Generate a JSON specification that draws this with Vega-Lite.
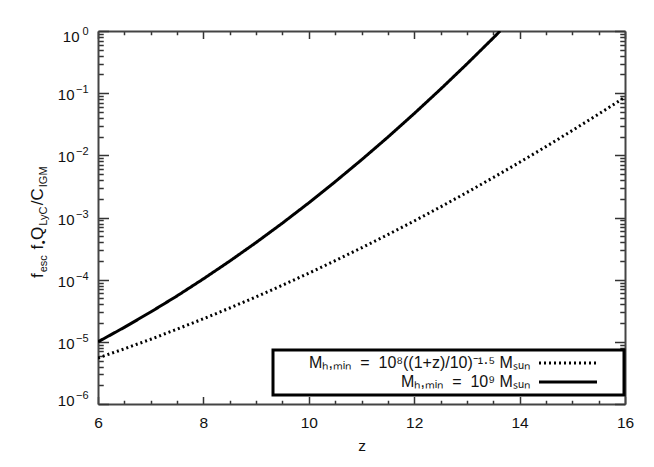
{
  "$schema": "https://vega.github.io/schema/vega-lite/v6.json",
  "width": 527,
  "height": 373,
  "autosize": {"type": "none"},
  "padding": {"left": 98, "top": 31, "right": 29, "bottom": 63},
  "background": "white",
  "config": {
    "view": {"stroke": null},
    "font": "Liberation Sans",
    "axis": {
      "grid": false,
      "labelFlush": false,
      "labelOverlap": false,
      "domainColor": "#444444",
      "domainWidth": 2,
      "tickColor": "#333333",
      "tickWidth": 1.5,
      "labelColor": "#111111",
      "titleColor": "#111111",
      "labelFont": "Liberation Sans",
      "titleFont": "Liberation Sans",
      "titleFontWeight": "normal"
    },
    "legend": {"strokeWidth": 3}
  },
  "data": {
    "values": [
      {"z": 6, "v": 1.0e-5, "series": "Mₕ,ₘᵢₙ\u00a0\u00a0=\u00a0\u00a010⁹ Mₛᵤₙ"},
      {"z": 6.5, "v": 1.71e-5, "series": "Mₕ,ₘᵢₙ\u00a0\u00a0=\u00a0\u00a010⁹ Mₛᵤₙ"},
      {"z": 7, "v": 3.02e-5, "series": "Mₕ,ₘᵢₙ\u00a0\u00a0=\u00a0\u00a010⁹ Mₛᵤₙ"},
      {"z": 7.5, "v": 5.48e-5, "series": "Mₕ,ₘᵢₙ\u00a0\u00a0=\u00a0\u00a010⁹ Mₛᵤₙ"},
      {"z": 8, "v": 1.03e-4, "series": "Mₕ,ₘᵢₙ\u00a0\u00a0=\u00a0\u00a010⁹ Mₛᵤₙ"},
      {"z": 8.5, "v": 1.99e-4, "series": "Mₕ,ₘᵢₙ\u00a0\u00a0=\u00a0\u00a010⁹ Mₛᵤₙ"},
      {"z": 9, "v": 3.96e-4, "series": "Mₕ,ₘᵢₙ\u00a0\u00a0=\u00a0\u00a010⁹ Mₛᵤₙ"},
      {"z": 9.5, "v": 8.13e-4, "series": "Mₕ,ₘᵢₙ\u00a0\u00a0=\u00a0\u00a010⁹ Mₛᵤₙ"},
      {"z": 10, "v": 1.72e-3, "series": "Mₕ,ₘᵢₙ\u00a0\u00a0=\u00a0\u00a010⁹ Mₛᵤₙ"},
      {"z": 10.5, "v": 3.76e-3, "series": "Mₕ,ₘᵢₙ\u00a0\u00a0=\u00a0\u00a010⁹ Mₛᵤₙ"},
      {"z": 11, "v": 8.46e-3, "series": "Mₕ,ₘᵢₙ\u00a0\u00a0=\u00a0\u00a010⁹ Mₛᵤₙ"},
      {"z": 11.5, "v": 1.96e-2, "series": "Mₕ,ₘᵢₙ\u00a0\u00a0=\u00a0\u00a010⁹ Mₛᵤₙ"},
      {"z": 12, "v": 4.70e-2, "series": "Mₕ,ₘᵢₙ\u00a0\u00a0=\u00a0\u00a010⁹ Mₛᵤₙ"},
      {"z": 12.5, "v": 0.116, "series": "Mₕ,ₘᵢₙ\u00a0\u00a0=\u00a0\u00a010⁹ Mₛᵤₙ"},
      {"z": 13, "v": 0.295, "series": "Mₕ,ₘᵢₙ\u00a0\u00a0=\u00a0\u00a010⁹ Mₛᵤₙ"},
      {"z": 13.5, "v": 0.773, "series": "Mₕ,ₘᵢₙ\u00a0\u00a0=\u00a0\u00a010⁹ Mₛᵤₙ"},
      {"z": 13.63, "v": 1.0, "series": "Mₕ,ₘᵢₙ\u00a0\u00a0=\u00a0\u00a010⁹ Mₛᵤₙ"},
      {"z": 6, "v": 5.5e-6, "series": "Mₕ,ₘᵢₙ\u00a0\u00a0=\u00a0\u00a010⁸((1+z)/10)⁻¹·⁵ Mₛᵤₙ"},
      {"z": 6.5, "v": 7.73e-6, "series": "Mₕ,ₘᵢₙ\u00a0\u00a0=\u00a0\u00a010⁸((1+z)/10)⁻¹·⁵ Mₛᵤₙ"},
      {"z": 7, "v": 1.10e-5, "series": "Mₕ,ₘᵢₙ\u00a0\u00a0=\u00a0\u00a010⁸((1+z)/10)⁻¹·⁵ Mₛᵤₙ"},
      {"z": 7.5, "v": 1.60e-5, "series": "Mₕ,ₘᵢₙ\u00a0\u00a0=\u00a0\u00a010⁸((1+z)/10)⁻¹·⁵ Mₛᵤₙ"},
      {"z": 8, "v": 2.35e-5, "series": "Mₕ,ₘᵢₙ\u00a0\u00a0=\u00a0\u00a010⁸((1+z)/10)⁻¹·⁵ Mₛᵤₙ"},
      {"z": 8.5, "v": 3.50e-5, "series": "Mₕ,ₘᵢₙ\u00a0\u00a0=\u00a0\u00a010⁸((1+z)/10)⁻¹·⁵ Mₛᵤₙ"},
      {"z": 9, "v": 5.30e-5, "series": "Mₕ,ₘᵢₙ\u00a0\u00a0=\u00a0\u00a010⁸((1+z)/10)⁻¹·⁵ Mₛᵤₙ"},
      {"z": 9.5, "v": 8.15e-5, "series": "Mₕ,ₘᵢₙ\u00a0\u00a0=\u00a0\u00a010⁸((1+z)/10)⁻¹·⁵ Mₛᵤₙ"},
      {"z": 10, "v": 1.27e-4, "series": "Mₕ,ₘᵢₙ\u00a0\u00a0=\u00a0\u00a010⁸((1+z)/10)⁻¹·⁵ Mₛᵤₙ"},
      {"z": 10.5, "v": 2.02e-4, "series": "Mₕ,ₘᵢₙ\u00a0\u00a0=\u00a0\u00a010⁸((1+z)/10)⁻¹·⁵ Mₛᵤₙ"},
      {"z": 11, "v": 3.25e-4, "series": "Mₕ,ₘᵢₙ\u00a0\u00a0=\u00a0\u00a010⁸((1+z)/10)⁻¹·⁵ Mₛᵤₙ"},
      {"z": 11.5, "v": 5.30e-4, "series": "Mₕ,ₘᵢₙ\u00a0\u00a0=\u00a0\u00a010⁸((1+z)/10)⁻¹·⁵ Mₛᵤₙ"},
      {"z": 12, "v": 8.79e-4, "series": "Mₕ,ₘᵢₙ\u00a0\u00a0=\u00a0\u00a010⁸((1+z)/10)⁻¹·⁵ Mₛᵤₙ"},
      {"z": 12.5, "v": 1.48e-3, "series": "Mₕ,ₘᵢₙ\u00a0\u00a0=\u00a0\u00a010⁸((1+z)/10)⁻¹·⁵ Mₛᵤₙ"},
      {"z": 13, "v": 2.53e-3, "series": "Mₕ,ₘᵢₙ\u00a0\u00a0=\u00a0\u00a010⁸((1+z)/10)⁻¹·⁵ Mₛᵤₙ"},
      {"z": 13.5, "v": 4.39e-3, "series": "Mₕ,ₘᵢₙ\u00a0\u00a0=\u00a0\u00a010⁸((1+z)/10)⁻¹·⁵ Mₛᵤₙ"},
      {"z": 14, "v": 7.73e-3, "series": "Mₕ,ₘᵢₙ\u00a0\u00a0=\u00a0\u00a010⁸((1+z)/10)⁻¹·⁵ Mₛᵤₙ"},
      {"z": 14.5, "v": 1.38e-2, "series": "Mₕ,ₘᵢₙ\u00a0\u00a0=\u00a0\u00a010⁸((1+z)/10)⁻¹·⁵ Mₛᵤₙ"},
      {"z": 15, "v": 2.51e-2, "series": "Mₕ,ₘᵢₙ\u00a0\u00a0=\u00a0\u00a010⁸((1+z)/10)⁻¹·⁵ Mₛᵤₙ"},
      {"z": 15.5, "v": 4.61e-2, "series": "Mₕ,ₘᵢₙ\u00a0\u00a0=\u00a0\u00a010⁸((1+z)/10)⁻¹·⁵ Mₛᵤₙ"},
      {"z": 16, "v": 8.63e-2, "series": "Mₕ,ₘᵢₙ\u00a0\u00a0=\u00a0\u00a010⁸((1+z)/10)⁻¹·⁵ Mₛᵤₙ"}
    ]
  },
  "resolve": {"axis": {"x": "independent", "y": "independent"}},
  "layer": [
    {
      "mark": {"type": "line", "strokeWidth": 3, "color": "black", "clip": true},
      "encoding": {
        "x": {
          "field": "z", "type": "quantitative",
          "scale": {"domain": [6, 16], "nice": false, "zero": false},
          "axis": {
            "orient": "bottom",
            "values": [6, 6.5, 7, 7.5, 8, 8.5, 9, 9.5, 10, 10.5, 11, 11.5, 12, 12.5, 13, 13.5, 14, 14.5, 15, 15.5, 16],
            "tickSize": {"condition": {"test": "datum.value % 2 == 0", "value": -7.5}, "value": -3.75},
            "labelExpr": "datum.value % 2 == 0 ? '' + datum.value : ''",
            "labelPadding": 18.5,
            "labelFontSize": 15.5,
            "title": "z",
            "titleFontSize": 15.5,
            "titlePadding": 4
          }
        },
        "y": {
          "field": "v", "type": "quantitative",
          "scale": {"type": "log", "domain": [1e-6, 1], "nice": false},
          "axis": {
            "orient": "left",
            "values": [1e-6, 2e-6, 3e-6, 4e-6, 5e-6, 6e-6, 7e-6, 8e-6, 9e-6, 1e-5, 2e-5, 3e-5, 4e-5, 5e-5, 6e-5, 7e-5, 8e-5, 9e-5, 1e-4, 2e-4, 3e-4, 4e-4, 5e-4, 6e-4, 7e-4, 8e-4, 9e-4, 0.001, 0.002, 0.003, 0.004, 0.005, 0.006, 0.007, 0.008, 0.009, 0.01, 0.02, 0.03, 0.04, 0.05, 0.06, 0.07, 0.08, 0.09, 0.1, 0.2, 0.3, 0.4, 0.5, 0.6, 0.7, 0.8, 0.9, 1],
            "tickSize": {"condition": {"test": "abs(log(datum.value)/LN10 - round(log(datum.value)/LN10)) < 0.001", "value": -10.5}, "value": -5.25},
            "labelExpr": "abs(log(datum.value)/LN10 - round(log(datum.value)/LN10)) < 0.001 ? (datum.value > 0.5 ? '0' : '−' + (-round(log(datum.value)/LN10))) : ''",
            "labelPadding": 20.5,
            "labelFontSize": 11,
            "labelAlign": "right",
            "labelBaseline": "middle",
            "labelOffset": {"condition": [{"test": "datum.value > 0.5", "value": 0}, {"test": "datum.value < 2e-6", "value": -9}], "value": -3.5},
            "title": "f",
            "titleX": -56,
            "titleY": 246.5,
            "titleAngle": 270,
            "titleAlign": "left",
            "titleBaseline": "alphabetic",
            "titleFontSize": 17
          }
        },
        "strokeDash": {
          "field": "series", "type": "nominal",
          "scale": {
            "domain": ["Mₕ,ₘᵢₙ\u00a0\u00a0=\u00a0\u00a010⁸((1+z)/10)⁻¹·⁵ Mₛᵤₙ", "Mₕ,ₘᵢₙ\u00a0\u00a0=\u00a0\u00a010⁹ Mₛᵤₙ"],
            "range": [[2, 3], [1, 0]]
          },
          "legend": {
            "orient": "none",
            "legendX": 175,
            "legendY": 319,
            "title": null,
            "symbolType": "M-5.8,0H5.8M9,0",
            "symbolSize": 100,
            "symbolStrokeWidth": 3,
            "symbolStrokeColor": "black",
            "symbolFillColor": "transparent",
            "labelFontSize": 16,
            "labelFont": "Liberation Sans",
            "labelColor": "#111111",
            "labelLimit": 600,
            "strokeColor": "black",
            "fillColor": "white",
            "padding": 5,
            "rowPadding": 3,
            "encode": {
              "labels": {"update": {"x": {"value": 252}, "align": {"value": "right"}}},
              "symbols": {"update": {"x": {"value": 290}}}
            }
          }
        }
      }
    },
    {
      "mark": {"type": "point", "opacity": 0},
      "encoding": {
        "x": {
          "field": "z", "type": "quantitative",
          "scale": {"domain": [6, 16], "nice": false, "zero": false},
          "axis": {
            "orient": "top",
            "values": [6, 6.5, 7, 7.5, 8, 8.5, 9, 9.5, 10, 10.5, 11, 11.5, 12, 12.5, 13, 13.5, 14, 14.5, 15, 15.5, 16],
            "tickSize": {"condition": {"test": "datum.value % 2 == 0", "value": -7.5}, "value": -3.75},
            "labels": false,
            "title": "esc",
            "titleX": -51.5,
            "titleY": 240.8,
            "titleAngle": 270,
            "titleAlign": "left",
            "titleBaseline": "alphabetic",
            "titleFontSize": 11
          }
        },
        "y": {
          "field": "v", "type": "quantitative",
          "scale": {"type": "log", "domain": [1e-6, 1], "nice": false},
          "axis": {
            "orient": "right",
            "values": [1e-6, 2e-6, 3e-6, 4e-6, 5e-6, 6e-6, 7e-6, 8e-6, 9e-6, 1e-5, 2e-5, 3e-5, 4e-5, 5e-5, 6e-5, 7e-5, 8e-5, 9e-5, 1e-4, 2e-4, 3e-4, 4e-4, 5e-4, 6e-4, 7e-4, 8e-4, 9e-4, 0.001, 0.002, 0.003, 0.004, 0.005, 0.006, 0.007, 0.008, 0.009, 0.01, 0.02, 0.03, 0.04, 0.05, 0.06, 0.07, 0.08, 0.09, 0.1, 0.2, 0.3, 0.4, 0.5, 0.6, 0.7, 0.8, 0.9, 1],
            "tickSize": {"condition": {"test": "abs(log(datum.value)/LN10 - round(log(datum.value)/LN10)) < 0.001", "value": -10.5}, "value": -5.25},
            "labels": false,
            "title": "f",
            "titleX": -583,
            "titleY": 218,
            "titleAngle": 270,
            "titleAlign": "left",
            "titleBaseline": "alphabetic",
            "titleFontSize": 17
          }
        }
      }
    },
    {
      "mark": {"type": "point", "opacity": 0},
      "encoding": {
        "x": {
          "field": "z", "type": "quantitative",
          "scale": {"domain": [6, 16], "nice": false, "zero": false},
          "axis": {
            "orient": "top", "ticks": false, "labels": false, "domain": false,
            "title": "•",
            "titleX": -52,
            "titleY": 212.8,
            "titleAngle": 270,
            "titleAlign": "left",
            "titleBaseline": "alphabetic",
            "titleFontSize": 11
          }
        },
        "y": {
          "field": "v", "type": "quantitative",
          "scale": {"type": "log", "domain": [1e-6, 1], "nice": false},
          "axis": {
            "orient": "left", "ticks": false, "domain": false,
            "values": [1e-6, 1e-5, 1e-4, 0.001, 0.01, 0.1, 1],
            "labelExpr": "'10'",
            "labelFontSize": 15,
            "labelAlign": "right",
            "labelBaseline": "middle",
            "labelPadding": {"condition": {"test": "datum.value > 0.5", "value": 19}, "value": 24},
            "labelOffset": {"condition": [{"test": "datum.value > 0.5", "value": 5}, {"test": "datum.value < 2e-6", "value": -4}], "value": 1.5},
            "title": "Q",
            "titleX": -56,
            "titleY": 208.5,
            "titleAngle": 270,
            "titleAlign": "left",
            "titleBaseline": "alphabetic",
            "titleFontSize": 17
          }
        }
      }
    },
    {
      "mark": {"type": "point", "opacity": 0},
      "encoding": {
        "x": {
          "field": "z", "type": "quantitative",
          "scale": {"domain": [6, 16], "nice": false, "zero": false},
          "axis": {
            "orient": "top", "ticks": false, "labels": false, "domain": false,
            "title": "LyC",
            "titleX": -51.5,
            "titleY": 194.3,
            "titleAngle": 270,
            "titleAlign": "left",
            "titleBaseline": "alphabetic",
            "titleFontSize": 11
          }
        },
        "y": {
          "field": "v", "type": "quantitative",
          "scale": {"type": "log", "domain": [1e-6, 1], "nice": false},
          "axis": {
            "orient": "left", "ticks": false, "labels": false, "domain": false,
            "title": "/C",
            "titleX": -56,
            "titleY": 173.7,
            "titleAngle": 270,
            "titleAlign": "left",
            "titleBaseline": "alphabetic",
            "titleFontSize": 17
          }
        }
      }
    },
    {
      "mark": {"type": "point", "opacity": 0},
      "encoding": {
        "x": {
          "field": "z", "type": "quantitative",
          "scale": {"domain": [6, 16], "nice": false, "zero": false},
          "axis": null
        },
        "y": {
          "field": "v", "type": "quantitative",
          "scale": {"type": "log", "domain": [1e-6, 1], "nice": false},
          "axis": {
            "orient": "left", "ticks": false, "labels": false, "domain": false,
            "title": "IGM",
            "titleX": -51.5,
            "titleY": 155.7,
            "titleAngle": 270,
            "titleAlign": "left",
            "titleBaseline": "alphabetic",
            "titleFontSize": 11
          }
        }
      }
    }
  ]
}
